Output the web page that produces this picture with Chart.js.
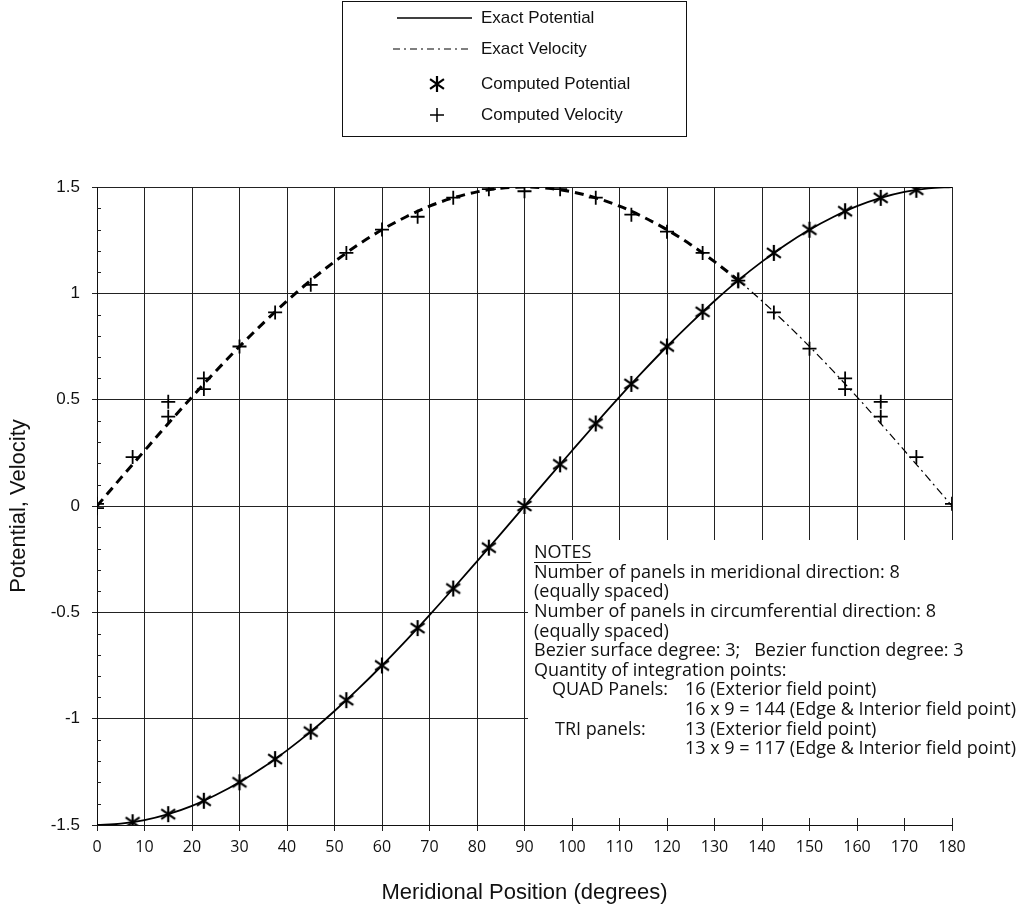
<!DOCTYPE html>
<html>
<head>
<meta charset="utf-8">
<title>Potential and Velocity vs Meridional Position</title>
<script src="https://cdn.jsdelivr.net/npm/chart.js@4.4.1/dist/chart.umd.min.js"></script>
<style>
  html, body { margin: 0; padding: 0; background: #fff; }
  #wrap { width: 1021px; height: 921px; }
</style>
</head>
<body>
<div id="wrap"><canvas id="c" width="1021" height="921"></canvas></div>
<script>
// Exact solution, sampled every 5 degrees
const exactAngles = [0,5,10,15,20,25,30,35,40,45,50,55,60,65,70,75,80,85,90,95,100,105,110,115,120,125,130,135,140,145,150,155,160,165,170,175,180];
const exactPotential = [-1.5,-1.494,-1.477,-1.449,-1.41,-1.359,-1.299,-1.229,-1.149,-1.061,-0.964,-0.86,-0.75,-0.634,-0.513,-0.388,-0.26,-0.131,0,0.131,0.26,0.388,0.513,0.634,0.75,0.86,0.964,1.061,1.149,1.229,1.299,1.359,1.41,1.449,1.477,1.494,1.5];
const exactVelocity = [0,0.131,0.26,0.388,0.513,0.634,0.75,0.86,0.964,1.061,1.149,1.229,1.299,1.359,1.41,1.449,1.477,1.494,1.5,1.494,1.477,1.449,1.41,1.359,1.299,1.229,1.149,1.061,0.964,0.86,0.75,0.634,0.513,0.388,0.26,0.131,0];

// Boundary element results
const potentialAngles = [7.5,15,22.5,30,37.5,45,52.5,60,67.5,75,82.5,90,97.5,105,112.5,120,127.5,135,142.5,150,157.5,165,172.5];
const computedPotential = [-1.487,-1.449,-1.386,-1.299,-1.19,-1.061,-0.913,-0.75,-0.574,-0.388,-0.196,0,0.196,0.388,0.574,0.75,0.913,1.061,1.19,1.299,1.386,1.449,1.487];
const velocityAngles = [0,0,7.5,15,15,22.5,22.5,30,37.5,45,52.5,60,67.5,75,82.5,90,97.5,105,112.5,120,127.5,135,142.5,150,157.5,157.5,165,165,172.5,180];
const computedVelocity = [0.01,-0.01,0.23,0.49,0.42,0.6,0.55,0.75,0.91,1.04,1.19,1.3,1.36,1.45,1.49,1.48,1.49,1.45,1.37,1.29,1.19,1.06,0.91,0.74,0.6,0.55,0.49,0.42,0.23,0.01];

// Axis ranges
const xMin = 0, xMax = 180, xStep = 10;
const yMin = -1.5, yMax = 1.5, yStep = 0.5;

const seriesNames = ['Exact Potential', 'Exact Velocity', 'Computed Potential', 'Computed Velocity'];
const noteLines = [
  'Number of panels in meridional direction: 8',
  '(equally spaced)',
  'Number of panels in circumferential direction: 8',
  '(equally spaced)',
  'Bezier surface degree: 3;   Bezier function degree: 3',
  'Quantity of integration points:'
];
const noteTable = [
  ['QUAD Panels:', '16 (Exterior field point)'],
  ['', '16 x 9 = 144 (Edge & Interior field point)'],
  ['TRI panels:', '13 (Exterior field point)'],
  ['', '13 x 9 = 117 (Edge & Interior field point)']
];

const pairs = (xs, ys) => xs.map((x, i) => ({ x: x, y: ys[i] }));

// asterisk marker: an X with a vertical stroke
function makeStar(size) {
  const cv = document.createElement('canvas');
  cv.width = size; cv.height = size;
  const g = cv.getContext('2d');
  const h = size / 2, r = size / 2 - 1;
  g.strokeStyle = '#000';
  g.lineWidth = 2.2;
  g.beginPath();
  g.moveTo(h, h - r); g.lineTo(h, h + r);
  g.moveTo(h - r * 0.87, h - r * 0.6); g.lineTo(h + r * 0.87, h + r * 0.6);
  g.moveTo(h - r * 0.87, h + r * 0.6); g.lineTo(h + r * 0.87, h - r * 0.6);
  g.stroke();
  return cv;
}
const starMark = makeStar(18);

const SANS = '"Liberation Sans", Arial, sans-serif';
const NOTE_FONT = '"Open Sans", "DejaVu Sans", sans-serif';

const decorations = {
  id: 'decorations',
  beforeDatasetsDraw(chart) {
    const { ctx, scales } = chart;
    const ys = scales.y, xs = scales.x;
    ctx.save();
    // minor ticks on the value axis
    ctx.strokeStyle = '#222';
    ctx.lineWidth = 1;
    ctx.beginPath();
    for (let i = -14; i <= 14; i++) {
      if (i % 5 === 0) continue;
      const py = Math.round(ys.getPixelForValue(i / 10)) + 0.5;
      ctx.moveTo(xs.left, py);
      ctx.lineTo(xs.left + 4, py);
    }
    ctx.stroke();

    // notes panel
    ctx.fillStyle = '#fff';
    ctx.fillRect(528, 540, 493, 278);
    ctx.fillStyle = '#111';
    ctx.font = '18px ' + NOTE_FONT;
    ctx.textBaseline = 'middle';
    ctx.textAlign = 'left';
    const x0 = 534;
    let y = 553;
    ctx.fillText('NOTES', x0, y);
    const w = ctx.measureText('NOTES').width;
    ctx.fillRect(x0, y + 9, w, 1);
    const lh = 19.6;
    noteLines.forEach(t => { y += lh; ctx.fillText(t, x0, y); });
    noteTable.forEach(row => {
      y += lh;
      if (row[0]) ctx.fillText(row[0], row[0].startsWith('QUAD') ? 552 : 555, y);
      ctx.fillText(row[1], 685, y);
    });
    ctx.restore();
  },
  afterDraw(chart) {
    const { ctx } = chart;
    ctx.save();
    // legend box
    ctx.strokeStyle = '#111';
    ctx.lineWidth = 1;
    ctx.strokeRect(342.5, 1.5, 344, 135);
    ctx.font = '17px ' + SANS;
    ctx.fillStyle = '#111';
    ctx.textBaseline = 'middle';
    ctx.textAlign = 'left';
    const tx = 481;
    const rows = [18, 49, 84, 115];
    // solid line sample
    ctx.strokeStyle = '#000';
    ctx.lineWidth = 1.5;
    ctx.beginPath(); ctx.moveTo(397, rows[0]); ctx.lineTo(472, rows[0]); ctx.stroke();
    // dash-dot sample
    ctx.lineWidth = 1.2;
    ctx.setLineDash([7, 4, 2, 4]);
    ctx.beginPath(); ctx.moveTo(393, rows[1]); ctx.lineTo(472, rows[1]); ctx.stroke();
    ctx.setLineDash([]);
    // marker samples
    ctx.drawImage(starMark, 437 - 9, rows[2] - 9);
    ctx.lineWidth = 1.5;
    ctx.beginPath();
    ctx.moveTo(437 - 7, rows[3]); ctx.lineTo(437 + 7, rows[3]);
    ctx.moveTo(437, rows[3] - 7); ctx.lineTo(437, rows[3] + 7);
    ctx.stroke();
    seriesNames.forEach((n, i) => ctx.fillText(n, tx, rows[i]));
    ctx.restore();
  }
};

new Chart(document.getElementById('c'), {
  type: 'line',
  data: {
    datasets: [
      {
        label: seriesNames[0],
        data: pairs(exactAngles, exactPotential),
        borderColor: '#000',
        borderWidth: 1.8,
        pointRadius: 0,
        cubicInterpolationMode: 'monotone',
        order: 4
      },
      {
        label: seriesNames[1],
        data: pairs(exactAngles, exactVelocity),
        borderColor: '#000',
        borderWidth: 2.6,
        pointRadius: 0,
        cubicInterpolationMode: 'monotone',
        segment: {
          borderWidth: c => c.p0.parsed.x < 135 ? 3 : 1.2,
          borderDash: c => c.p0.parsed.x < 135 ? [9, 6] : [8, 4, 2, 4]
        },
        order: 3
      },
      {
        label: seriesNames[2],
        data: pairs(potentialAngles, computedPotential),
        showLine: false,
        pointStyle: starMark,
        pointRadius: 9,
        borderColor: '#000',
        backgroundColor: '#000',
        order: 2
      },
      {
        label: seriesNames[3],
        data: pairs(velocityAngles, computedVelocity),
        showLine: false,
        pointStyle: 'cross',
        pointRadius: 7,
        borderWidth: 1.8,
        borderColor: '#000',
        backgroundColor: '#000',
        order: 1
      }
    ]
  },
  options: {
    responsive: false,
    animation: false,
    devicePixelRatio: 1,
    layout: { padding: { left: 0, top: 187, right: 69, bottom: 0 } },
    plugins: { legend: { display: false }, tooltip: { enabled: false } },
    scales: {
      x: {
        type: 'linear',
        min: xMin, max: xMax,
        afterFit: s => { s.height = 96; },
        ticks: {
          stepSize: xStep,
          autoSkip: false,
          maxRotation: 0,
          padding: 7,
          color: '#111',
          font: { family: NOTE_FONT, size: 16 }
        },
        grid: { color: '#222', lineWidth: 1, tickLength: 6 },
        border: { color: '#111', width: 1 },
        title: {
          display: true,
          text: 'Meridional Position (degrees)',
          color: '#111',
          font: { family: SANS, size: 22 },
          padding: { top: 0, bottom: 15 }
        }
      },
      y: {
        type: 'linear',
        min: yMin, max: yMax,
        afterFit: s => { s.width = 97; },
        ticks: {
          stepSize: yStep,
          padding: 12,
          color: '#111',
          font: { family: SANS, size: 17 },
          callback: v => String(v)
        },
        grid: { color: '#222', lineWidth: 1, tickLength: 5 },
        border: { color: '#111', width: 1 },
        title: {
          display: true,
          text: 'Potential, Velocity',
          color: '#111',
          font: { family: SANS, size: 22 },
          padding: { top: 6, bottom: 0 }
        }
      }
    }
  },
  plugins: [decorations]
});
</script>
</body>
</html>
